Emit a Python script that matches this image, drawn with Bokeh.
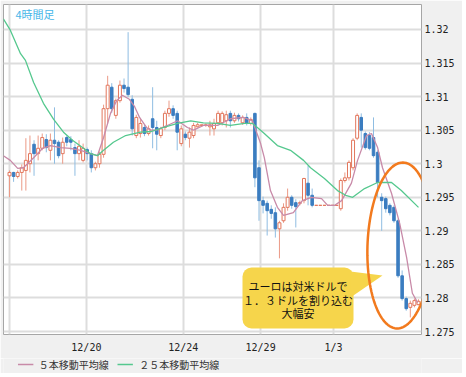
import numpy as np
from bokeh.plotting import figure
from bokeh.layouts import column
from bokeh.models import (ColumnDataSource, Range1d, FixedTicker, NumeralTickFormatter,
                          BoxAnnotation, PolyAnnotation, Label)
from bokeh.core.properties import value
from bokeh.embed import file_html
from bokeh.resources import INLINE

# ---- data (EUR/USD 4-hour candles) ----
opens = [1.2982, 1.2987, 1.2981, 1.2987, 1.2990, 1.3000, 1.3029, 1.3015, 1.3023, 1.3036,
         1.3020, 1.3035, 1.3032, 1.3015, 1.3039, 1.3036, 1.3024, 1.3015, 1.3005, 1.3021,
         1.3015, 1.2994, 1.3000, 1.3014, 1.3082, 1.3114, 1.3072, 1.3094, 1.3117, 1.3114,
         1.3096, 1.3042, 1.3045, 1.3054, 1.3045, 1.3067, 1.3054, 1.3042, 1.3054, 1.3075,
         1.3082, 1.3075, 1.3030, 1.3044, 1.3038, 1.3042, 1.3055, 1.3057, 1.3057, 1.3055,
         1.3052, 1.3061, 1.3061, 1.3064, 1.3075, 1.3064, 1.3072, 1.3061, 1.3069, 1.3060,
         1.3075, 1.2994, 1.2945, 1.2941, 1.2932, 1.2927, 1.2903, 1.2915, 1.2935, 1.2950,
         1.2942, 1.2941, 1.2945, 1.2971, 1.2953, 1.2938, 1.2938, 1.2938, 1.2938, 1.2938,
         1.2938, 1.2933, 1.2975, 1.2979, 1.2994, 1.3038, 1.3069, 1.3045, 1.3042, 1.3039,
         1.3017, 1.2950, 1.2948, 1.2938, 1.2935, 1.2915, 1.2833, 1.2799, 1.2786, 1.2789,
         1.2790]
highs = [1.2990, 1.2988, 1.2990, 1.2999, 1.3038, 1.3042, 1.3035, 1.3042, 1.3045, 1.3044,
         1.3045, 1.3084, 1.3035, 1.3039, 1.3042, 1.3041, 1.3030, 1.3035, 1.3030, 1.3024,
         1.3020, 1.3003, 1.3018, 1.3088, 1.3131, 1.3120, 1.3097, 1.3124, 1.3127, 1.3196,
         1.3102, 1.3073, 1.3067, 1.3058, 1.3057, 1.3114, 1.3064, 1.3055, 1.3079, 1.3094,
         1.3087, 1.3079, 1.3057, 1.3048, 1.3054, 1.3061, 1.3061, 1.3058, 1.3060, 1.3064,
         1.3067, 1.3079, 1.3078, 1.3079, 1.3079, 1.3076, 1.3075, 1.3072, 1.3075, 1.3069,
         1.3076, 1.3005, 1.2951, 1.2945, 1.2938, 1.2935, 1.2915, 1.2941, 1.2963, 1.2953,
         1.2947, 1.2945, 1.2979, 1.2997, 1.2963, 1.2938, 1.2938, 1.2938, 1.2938, 1.2938,
         1.2938, 1.2978, 1.2987, 1.3005, 1.3038, 1.3075, 1.3075, 1.3048, 1.3047, 1.3069,
         1.3020, 1.2956, 1.2951, 1.2941, 1.2938, 1.2918, 1.2841, 1.2802, 1.2796, 1.2799,
         1.2798]
lows = [1.2950, 1.2973, 1.2978, 1.2960, 1.2960, 1.2987, 1.2982, 1.3005, 1.3020, 1.3017,
        1.3005, 1.3000, 1.3008, 1.3000, 1.3026, 1.3020, 1.2982, 1.3005, 1.3002, 1.3005,
        1.2987, 1.2990, 1.2994, 1.3009, 1.3060, 1.3076, 1.3067, 1.3091, 1.3106, 1.3099,
        1.3042, 1.3038, 1.3039, 1.3041, 1.3042, 1.3023, 1.3020, 1.3038, 1.3050, 1.3070,
        1.3067, 1.3020, 1.3026, 1.3035, 1.3024, 1.3038, 1.3054, 1.3055, 1.3055, 1.3042,
        1.3042, 1.3058, 1.3057, 1.3054, 1.3054, 1.3061, 1.3063, 1.3058, 1.3057, 1.3057,
        1.2965, 1.2915, 1.2926, 1.2893, 1.2918, 1.2890, 1.2859, 1.2912, 1.2930, 1.2933,
        1.2905, 1.2938, 1.2941, 1.2938, 1.2935, 1.2938, 1.2938, 1.2938, 1.2938, 1.2938,
        1.2938, 1.2930, 1.2972, 1.2975, 1.2990, 1.3035, 1.3024, 1.3021, 1.3020, 1.3009,
        1.2950, 1.2900, 1.2927, 1.2923, 1.2912, 1.2830, 1.2796, 1.2781, 1.2771, 1.2786,
        1.2789]
closes = [1.2987, 1.2981, 1.2987, 1.2994, 1.3005, 1.3015, 1.3015, 1.3023, 1.3039, 1.3024,
          1.3035, 1.3030, 1.3012, 1.3032, 1.3032, 1.3032, 1.3015, 1.3026, 1.3023, 1.3015,
          1.2994, 1.3000, 1.3014, 1.3082, 1.3117, 1.3082, 1.3094, 1.3117, 1.3112, 1.3103,
          1.3052, 1.3069, 1.3060, 1.3045, 1.3052, 1.3054, 1.3044, 1.3052, 1.3075, 1.3082,
          1.3072, 1.3047, 1.3052, 1.3039, 1.3047, 1.3057, 1.3058, 1.3058, 1.3058, 1.3058,
          1.3060, 1.3075, 1.3075, 1.3073, 1.3064, 1.3072, 1.3067, 1.3069, 1.3060, 1.3066,
          1.2979, 1.2945, 1.2938, 1.2930, 1.2926, 1.2903, 1.2912, 1.2935, 1.2950, 1.2938,
          1.2936, 1.2942, 1.2978, 1.2953, 1.2938, 1.2938, 1.2938, 1.2938, 1.2938, 1.2938,
          1.2938, 1.2975, 1.2979, 1.3002, 1.3035, 1.3072, 1.3050, 1.3024, 1.3023, 1.3012,
          1.2972, 1.2945, 1.2933, 1.2927, 1.2915, 1.2833, 1.2799, 1.2784, 1.2792, 1.2796,
          1.2795]

# 5-period moving average: candle index, price
ma5_x = [-1.5, 0.2, 2.0, 3.4, 5.9, 8.1, 10.0, 12.5, 14.9, 17.4, 19.8, 21.5, 23.0, 24.7, 26.2,
         27.6, 29.3, 30.6, 31.8, 33.5, 34.5, 35.9, 38.6, 41.1, 43.5, 45.0, 47.4, 50.9, 54.0,
         57.2, 59.4, 61.4, 62.3, 63.8, 65.5, 67.0, 69.4, 71.6, 73.8, 76.3, 77.8, 79.5, 81.2,
         83.6, 85.1, 87.3, 88.5, 90.0, 91.2, 93.4, 95.4, 97.1, 98.5, 99.8]
ma5_y = [1.3012, 1.3005, 1.2993, 1.2994, 1.3009, 1.3023, 1.3027, 1.3024, 1.3023, 1.3020,
         1.3015, 1.3012, 1.3039, 1.3075, 1.3094, 1.3102, 1.3096, 1.3085, 1.3069, 1.3054,
         1.3050, 1.3050, 1.3057, 1.3064, 1.3054, 1.3050, 1.3057, 1.3057, 1.3067, 1.3069,
         1.3064, 1.3030, 1.3009, 1.2960, 1.2935, 1.2923, 1.2927, 1.2945, 1.2950, 1.2948,
         1.2938, 1.2938, 1.2945, 1.2971, 1.3005, 1.3042, 1.3045, 1.3024, 1.2994, 1.2956,
         1.2911, 1.2860, 1.2807, 1.2793]
# 25-period moving average
ma25_x = [-1.5, 0.2, 2.7, 3.9, 5.9, 8.3, 10.8, 13.2, 15.4, 18.1, 19.8, 21.5, 23.0, 25.4, 28.4,
          32.0, 34.7, 37.7, 41.1, 44.3, 47.4, 50.9, 54.0, 57.5, 59.4, 60.6, 62.3, 65.5, 68.7,
          71.9, 73.6, 77.0, 80.2, 82.2, 83.9, 86.8, 90.0, 93.4, 95.8, 100.0]
ma25_y = [1.3216, 1.3199, 1.3164, 1.3154, 1.3121, 1.3090, 1.3066, 1.3047, 1.3035, 1.3023,
          1.3015, 1.3012, 1.3020, 1.3032, 1.3042, 1.3047, 1.3048, 1.3054, 1.3060, 1.3064,
          1.3061, 1.3060, 1.3057, 1.3060, 1.3060, 1.3054, 1.3045, 1.3027, 1.3020, 1.3005,
          1.2994, 1.2978, 1.2960, 1.2953, 1.2950, 1.2963, 1.2972, 1.2972, 1.2960, 1.2935]

x_tick_pos = [0, 18.8, 42.5, 61.4, 79.2]
x_tick_labels = ["", "12/20", "12/24", "12/29", "1/3"]
y_ticks = [1.275, 1.28, 1.285, 1.29, 1.295, 1.30, 1.305, 1.31, 1.315, 1.32]

title_text = "4時間足"
note_lines = ["ユーロは対米ドルで", "１．３ドルを割り込む", "大幅安"]
legend_labels = ["５本移動平均線", "２５本移動平均線"]

MA5_COLOR = "#c88aa8"
MA25_COLOR = "#55c88e"
BG = "#f0f0f0"

# ---- main figure ----
idx = list(range(len(opens)))
up = [c >= o for o, c in zip(opens, closes)]
def pick(seq, flag):
    return [v for v, u in zip(seq, up) if u == flag]
src_up = ColumnDataSource(dict(x=pick(idx, True), o=pick(opens, True), c=pick(closes, True),
                               h=pick(highs, True), l=pick(lows, True)))
src_dn = ColumnDataSource(dict(x=pick(idx, False), o=pick(opens, False), c=pick(closes, False),
                               h=pick(highs, False), l=pick(lows, False)))

X0, DX = 9.0, 4.09          # pixel position of candle 0 and candle spacing
def px_to_x(px):
    return (px - X0) / DX
def py_to_y(py):
    return 1.32432 - 0.000149 * py

p = figure(width=462, height=358,
           x_range=Range1d(px_to_x(3), px_to_x(421)),
           y_range=Range1d(py_to_y(334), py_to_y(4)),
           output_backend="svg", toolbar_location=None,
           y_axis_location="right",
           min_border_left=3, min_border_top=4, min_border_right=41, min_border_bottom=24,
           background_fill_color="white", border_fill_color=BG,
           outline_line_color="#a6a6a6")

# grid
p.xgrid.ticker = FixedTicker(ticks=x_tick_pos)
p.ygrid.ticker = FixedTicker(ticks=y_ticks)
for g in (p.xgrid, p.ygrid):
    g.grid_line_color = "#dddddd"
    g.grid_line_width = 2

# axes
xa = p.xaxis[0]
xa.ticker = FixedTicker(ticks=x_tick_pos)
xa.major_label_overrides = {k: v for k, v in zip(x_tick_pos, x_tick_labels)}
ya = p.yaxis[0]
ya.ticker = FixedTicker(ticks=y_ticks)
ya.formatter = NumeralTickFormatter(format="0.[000]")
for ax in (xa, ya):
    ax.axis_line_color = None
    ax.major_tick_line_color = None
    ax.minor_tick_line_color = None
    ax.major_tick_out = 0
    ax.major_tick_in = 0
    ax.major_label_text_font = "DejaVu Sans Mono"
    ax.major_label_text_font_size = "10px"
    ax.major_label_text_color = "#222222"
ya.major_label_standoff = 3
xa.major_label_standoff = 7

# candles
p.segment(x0="x", y0="h", x1="x", y1="l", source=src_up, line_color="#eb9a86", line_width=1)
p.segment(x0="x", y0="h", x1="x", y1="l", source=src_dn, line_color="#8fbde2", line_width=1)
p.vbar(x="x", top="c", bottom="o", width=0.72, source=src_up,
       fill_color="white", line_color="#e2765c", line_width=1)
p.vbar(x="x", top="o", bottom="c", width=0.62, source=src_dn,
       fill_color="#3b7dc0", line_color="#3b7dc0", line_width=1)

# moving averages
p.line(ma5_x, ma5_y, line_color=MA5_COLOR, line_width=1.3)
p.line(ma25_x, ma25_y, line_color=MA25_COLOR, line_width=1.3)

# title label
p.add_layout(Label(x=px_to_x(15), y=py_to_y(13), text=title_text, text_align="left",
                   text_baseline="middle", text_font="Noto Sans CJK JP",
                   text_font_size="11px", text_color="#45b6e8"))

# callout
yellow = "#f6d54b"
p.add_layout(BoxAnnotation(left=px_to_x(242), right=px_to_x(353),
                           top=py_to_y(267), bottom=py_to_y(328),
                           fill_color=yellow, fill_alpha=1, line_color=None,
                           border_radius=9))
p.add_layout(PolyAnnotation(xs=[px_to_x(350), px_to_x(350), px_to_x(382)],
                            ys=[py_to_y(271), py_to_y(297), py_to_y(275)],
                            fill_color=yellow, fill_alpha=1, line_color=None))
for line, py in zip(note_lines, [285.5, 299, 312.5]):
    p.add_layout(Label(x=px_to_x(297.5), y=py_to_y(py), text=line, text_align="center",
                       text_baseline="middle", text_font="Noto Sans CJK JP",
                       text_font_size="11px", text_color="#111111"))

# orange ellipse
t = np.linspace(0, 2 * np.pi, 120)
cx, cy, a, b, phi = 399.5, 245.0, 32.5, 83.0, 0.04
u, v = a * np.cos(t), b * np.sin(t)
ex = cx + u * np.cos(phi) - v * np.sin(phi)
ey = cy + u * np.sin(phi) + v * np.cos(phi)
p.add_layout(PolyAnnotation(xs=list(px_to_x(ex)), ys=list(py_to_y(ey)),
                            fill_alpha=0, line_color="#f27a1e", line_alpha=1,
                            line_width=2.5))

# ---- legend strip (separate small figure, pixel coordinates) ----
lg = figure(width=462, height=15, x_range=Range1d(0, 462), y_range=Range1d(0, 15),
            output_backend="svg", toolbar_location=None,
            x_axis_location=None, y_axis_location=None,
            min_border=0, background_fill_color=BG, border_fill_color=BG,
            outline_line_color=None)
lg.xgrid.visible = False
lg.ygrid.visible = False
lg.segment(x0=[16, 126], y0=[9, 9], x1=[33, 143], y1=[9, 9],
           line_color=[MA5_COLOR, MA25_COLOR], line_width=1.3)
lg.text(x=[39, 150], y=[9, 9], text=legend_labels, text_font=value("Noto Sans CJK JP"),
        text_font_size="10px", text_color="#333333", text_baseline="middle", text_align="left")

layout = column(p, lg, spacing=0)
open("out.html", "w").write(file_html(layout, INLINE))
